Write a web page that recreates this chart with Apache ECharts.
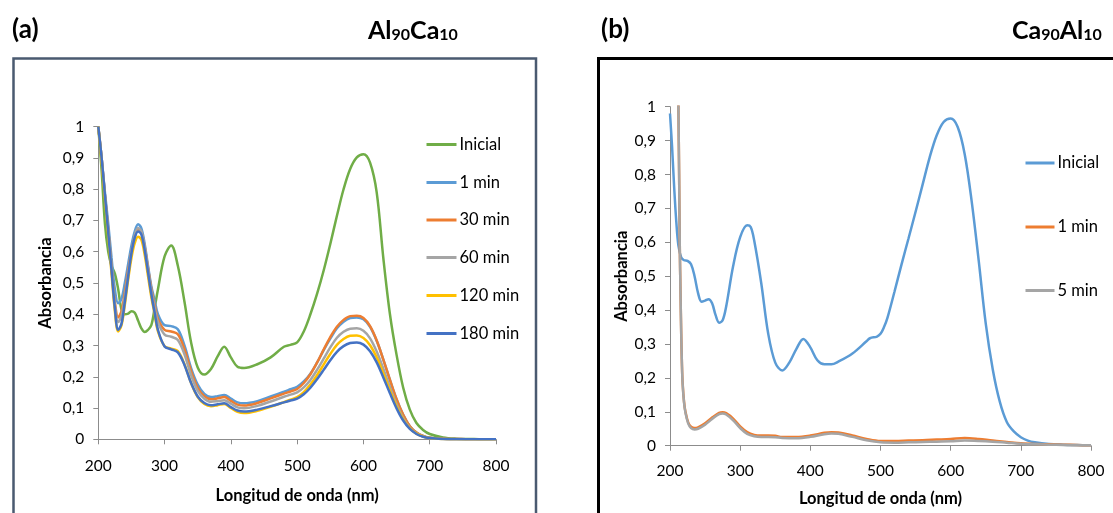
<!DOCTYPE html>
<html>
<head>
<meta charset="utf-8">
<script src="https://cdn.jsdelivr.net/npm/echarts@6/dist/echarts.min.js"></script>
<style>html,body{margin:0;padding:0;background:#fff;}#c{width:1113px;height:513px;}</style>
</head>
<body>
<div id="c"></div>
<script>
// ---------- Panel (a) Al90Ca10 ----------
const wlA = [200,205,210,215,220,225,230,235,240,245,250,255,260,265,270,275,280,285,290,300,310,320,330,340,350,360,370,380,390,400,410,420,440,460,480,490,500,510,520,530,540,550,560,570,580,590,600,610,620,630,640,650,660,670,680,690,700,720,740,760,780,800];
const aInicial = [1.0,0.86,0.69,0.60,0.555,0.53,0.48,0.415,0.40,0.402,0.41,0.405,0.38,0.355,0.343,0.35,0.365,0.42,0.48,0.585,0.62,0.555,0.44,0.31,0.23,0.207,0.225,0.265,0.296,0.262,0.232,0.228,0.24,0.262,0.296,0.302,0.31,0.345,0.40,0.465,0.54,0.625,0.715,0.80,0.865,0.902,0.912,0.885,0.79,0.58,0.40,0.27,0.165,0.095,0.052,0.03,0.017,0.006,0.002,0.001,0,0];
const a1min = [1.0,0.9,0.79,0.69,0.58,0.48,0.435,0.45,0.50,0.56,0.62,0.665,0.688,0.675,0.625,0.555,0.49,0.445,0.40,0.365,0.362,0.352,0.30,0.228,0.175,0.145,0.135,0.138,0.142,0.13,0.118,0.115,0.122,0.137,0.152,0.16,0.168,0.185,0.21,0.245,0.285,0.322,0.355,0.376,0.388,0.39,0.384,0.36,0.315,0.255,0.19,0.128,0.078,0.042,0.022,0.011,0.005,0.002,0.001,0,0,0];
const a30min = [1.0,0.9,0.78,0.67,0.55,0.44,0.39,0.41,0.47,0.54,0.60,0.648,0.672,0.662,0.615,0.548,0.482,0.43,0.385,0.35,0.345,0.336,0.288,0.218,0.165,0.138,0.128,0.131,0.135,0.123,0.111,0.108,0.116,0.131,0.146,0.153,0.161,0.18,0.208,0.245,0.287,0.327,0.36,0.382,0.394,0.395,0.388,0.362,0.316,0.255,0.19,0.128,0.078,0.042,0.022,0.011,0.005,0.002,0.001,0,0,0];
const a60min = [1.0,0.9,0.78,0.67,0.55,0.43,0.375,0.395,0.455,0.53,0.60,0.652,0.676,0.665,0.615,0.545,0.475,0.42,0.375,0.335,0.328,0.318,0.272,0.205,0.155,0.13,0.12,0.122,0.125,0.114,0.102,0.099,0.107,0.121,0.136,0.143,0.15,0.166,0.19,0.222,0.258,0.294,0.325,0.344,0.354,0.355,0.347,0.323,0.281,0.226,0.167,0.112,0.068,0.037,0.019,0.009,0.004,0.001,0,0,0,0];
const a120min = [1.0,0.89,0.77,0.65,0.53,0.41,0.345,0.365,0.43,0.51,0.58,0.628,0.648,0.638,0.59,0.522,0.455,0.40,0.345,0.298,0.29,0.282,0.24,0.18,0.135,0.113,0.106,0.109,0.113,0.10,0.088,0.084,0.091,0.104,0.119,0.127,0.135,0.151,0.175,0.205,0.239,0.273,0.302,0.321,0.331,0.332,0.324,0.301,0.262,0.211,0.156,0.105,0.064,0.035,0.018,0.009,0.004,0.001,0,0,0,0];
const a180min = [1.0,0.9,0.78,0.66,0.54,0.42,0.35,0.37,0.44,0.52,0.595,0.645,0.665,0.655,0.605,0.535,0.465,0.405,0.35,0.297,0.288,0.278,0.238,0.18,0.137,0.116,0.109,0.112,0.115,0.103,0.092,0.089,0.095,0.106,0.118,0.124,0.13,0.144,0.165,0.192,0.222,0.253,0.28,0.298,0.308,0.31,0.303,0.282,0.246,0.198,0.147,0.099,0.06,0.033,0.017,0.008,0.004,0.001,0,0,0,0];

// ---------- Panel (b) Ca90Al10 ----------
const wlBIni = [200,203,206,209,212,216,220,225,230,235,240,245,250,255,260,265,270,275,280,290,300,310,315,320,330,340,350,360,370,380,390,400,410,420,430,440,460,480,485,495,500,505,510,520,530,540,550,560,570,580,590,600,610,620,630,640,650,660,670,680,690,700,710,720,740,760,780,800];
const bInicial = [0.98,0.88,0.76,0.66,0.59,0.555,0.547,0.545,0.535,0.50,0.45,0.425,0.428,0.432,0.42,0.385,0.363,0.37,0.41,0.53,0.615,0.65,0.645,0.605,0.48,0.33,0.245,0.222,0.245,0.285,0.315,0.29,0.252,0.24,0.24,0.248,0.272,0.308,0.317,0.322,0.33,0.35,0.378,0.455,0.535,0.612,0.69,0.77,0.85,0.915,0.955,0.965,0.94,0.86,0.72,0.545,0.36,0.225,0.13,0.07,0.042,0.025,0.015,0.01,0.005,0.003,0.002,0.001];
const wlBT = [211,212,213,214,215,216,217,218,220,222,226,230,235,240,250,260,270,275,280,290,300,310,320,330,340,350,360,380,400,420,430,440,460,480,500,520,540,560,580,600,620,640,660,680,700,720,740,760,780,800];
const b1min = [1.2,1.0,0.8,0.58,0.45,0.33,0.24,0.185,0.13,0.10,0.068,0.056,0.052,0.054,0.066,0.083,0.097,0.099,0.096,0.08,0.057,0.04,0.032,0.03,0.03,0.029,0.026,0.026,0.03,0.038,0.04,0.039,0.03,0.02,0.014,0.014,0.015,0.016,0.018,0.02,0.023,0.02,0.015,0.011,0.007,0.005,0.004,0.003,0.002,0.001];
const b5min = [1.2,1.0,0.8,0.58,0.45,0.33,0.24,0.182,0.127,0.097,0.065,0.052,0.048,0.05,0.062,0.079,0.093,0.095,0.092,0.075,0.052,0.035,0.028,0.026,0.026,0.025,0.023,0.022,0.026,0.034,0.036,0.035,0.026,0.016,0.01,0.009,0.01,0.011,0.012,0.013,0.015,0.014,0.012,0.009,0.006,0.004,0.003,0.002,0.001,0.001];

const namesA = ['Inicial','1 min','30 min','60 min','120 min','180 min'];
const namesB = ['Inicial','1 min','5 min'];
const colorsA = ['#70AD47','#5B9BD5','#ED7D31','#A5A5A5','#FFC000','#4472C4'];
const colorsB = ['#5B9BD5','#ED7D31','#A5A5A5'];

const FONT = 'Lato';
const pairs = (xs, ys) => xs.map((x, i) => [x, ys[i]]);
const fmtY = v => String(+(+v).toFixed(1)).replace('.', ',');

function xAx(gi, margin, gap) {
  return {
    gridIndex: gi, type: 'value', min: 200, max: 800, interval: 100,
    name: 'Longitud de onda (nm)', nameLocation: 'middle', nameGap: gap,
    nameTextStyle: { fontFamily: FONT, fontWeight: 'bold', fontSize: 16.5, color: '#000' },
    axisLine: { show: true, lineStyle: { color: '#8c8c8c', width: 1 } },
    axisTick: { show: true, length: 5, lineStyle: { color: '#8c8c8c' } },
    axisLabel: { margin: margin, fontFamily: FONT, fontSize: 15.5, color: '#000' },
    splitLine: { show: false }
  };
}
function yAx(gi, margin, gap) {
  return {
    gridIndex: gi, type: 'value', min: 0, max: 1, interval: 0.1,
    name: 'Absorbancia', nameLocation: 'middle', nameGap: gap,
    nameTextStyle: { fontFamily: FONT, fontWeight: 'bold', fontSize: 16.5, color: '#000' },
    axisLine: { show: true, lineStyle: { color: '#8c8c8c', width: 1 } },
    axisTick: { show: true, length: 5, lineStyle: { color: '#8c8c8c' } },
    axisLabel: { margin: margin, fontFamily: FONT, fontSize: 15.5, color: '#000', formatter: fmtY },
    splitLine: { show: false }
  };
}
function ser(name, gi, data, color) {
  return {
    name: name, type: 'line', xAxisIndex: gi, yAxisIndex: gi, data: data,
    showSymbol: false, symbol: 'none', smooth: 0.35, clip: true,
    lineStyle: { color: color, width: 2.5 }, itemStyle: { color: color }
  };
}

const seriesA = [aInicial, a1min, a30min, a60min, a120min, a180min]
  .map((ys, i) => ser(namesA[i], 0, pairs(wlA, ys), colorsA[i]));
const seriesB = [
  ser('b_' + namesB[0], 1, pairs(wlBIni, bInicial), colorsB[0]),
  ser('b_' + namesB[1], 1, pairs(wlBT, b1min), colorsB[1]),
  ser('b_' + namesB[2], 1, pairs(wlBT, b5min), colorsB[2])
];

const legA_y = [143, 181, 218.5, 256, 294, 332];
const legB_y = [161.5, 225.5, 289];
const legends = [];
namesA.forEach((n, i) => legends.push({
  data: [n], left: 426.5, top: legA_y[i] - 7, orient: 'vertical', padding: 0,
  icon: 'rect', itemWidth: 30, itemHeight: 3, selectedMode: false,
  textStyle: { fontFamily: FONT, fontSize: 16.5, color: '#000', padding: [0, 0, 0, -2] }
}));
namesB.forEach((n, i) => legends.push({
  data: ['b_' + n], left: 1025.5, top: legB_y[i] - 7, orient: 'vertical', padding: 0,
  icon: 'rect', itemWidth: 29, itemHeight: 3, selectedMode: false,
  formatter: s => s.replace(/^b_/, ''),
  textStyle: { fontFamily: FONT, fontSize: 16.5, color: '#000', padding: [0, 0, 0, -2] }
}));

const titleRich = {
  b: { fontFamily: FONT, fontSize: 25, fontWeight: 'bold', color: '#000' },
  s: { fontFamily: FONT, fontSize: 16, fontWeight: 'bold', color: '#000', verticalAlign: 'bottom', padding: [7, 0, 0, 0] }
};

const chart = echarts.init(document.getElementById('c'), null, { renderer: 'canvas' });
chart.setOption({
  animation: false,
  backgroundColor: '#fff',
  title: [
    { text: '(a)', left: 7, top: 12, textStyle: { fontFamily: FONT, fontSize: 26, fontWeight: 'bold', color: '#000' } },
    { text: '{b|Al}{s|90}{b|Ca}{s|10}', left: 363, top: 13, textStyle: { rich: titleRich } },
    { text: '(b)', left: 596, top: 12, textStyle: { fontFamily: FONT, fontSize: 26, fontWeight: 'bold', color: '#000' } },
    { text: '{b|Ca}{s|90}{b|Al}{s|10}', left: 1007, top: 13, textStyle: { rich: titleRich } }
  ],
  grid: [
    { left: 98.3, top: 126.7, width: 397.7, height: 312.6, containLabel: false },
    { left: 670, top: 106.7, width: 421, height: 339, containLabel: false }
  ],
  xAxis: [xAx(0, 19, 48), xAx(1, 17, 44)],
  yAxis: [yAx(0, 14, 44), yAx(1, 14, 39)],
  legend: legends,
  series: seriesA.concat(seriesB),
  graphic: [
    { type: 'rect', shape: { x: 13.5, y: 58.5, width: 522.5, height: 480 }, style: { fill: null, stroke: '#4a5a70', lineWidth: 2.5 }, silent: true },
    { type: 'rect', shape: { x: 598.5, y: 58.5, width: 540, height: 480 }, style: { fill: null, stroke: '#000', lineWidth: 3 }, silent: true }
  ]
});
</script>
</body>
</html>
